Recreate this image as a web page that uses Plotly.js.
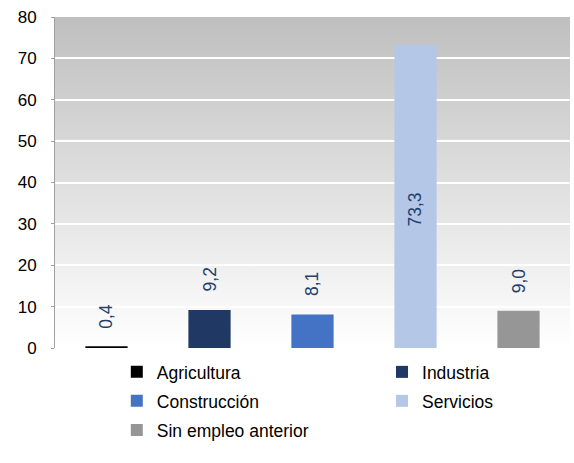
<!DOCTYPE html>
<html><head><meta charset="utf-8">
<script src="https://cdn.plot.ly/plotly-3.0.1.min.js"></script>
<style>html,body{margin:0;padding:0;background:#fff}#chart{width:574px;height:463px}</style>
</head><body><div id="chart"></div>
<script>
const categories = ["Agricultura", "Industria", "Construcción", "Servicios", "Sin empleo anterior"];
const values = [0.4, 9.2, 8.1, 73.3, 9.0];
const colors = ["#000000", "#1F3864", "#4472C4", "#B4C7E7", "#969696"];
const yTicks = [0, 10, 20, 30, 40, 50, 60, 70, 80];

const fmt = v => v.toFixed(1).replace('.', ',');
const legendNames = ['legend', 'legend2', 'legend3', 'legend4', 'legend5'];
const FONT = 'Arial, "Liberation Sans", sans-serif';

const traces = categories.map((c, i) => ({
  type: 'bar', x: [c], y: [values[i]], name: c,
  marker: {color: colors[i]}, width: 0.41,
  legend: legendNames[i], hoverinfo: 'skip'
}));

const annotations = categories.map((c, i) => {
  const big = values[i] > 50;
  return {
    x: c, y: big ? values[i] * 0.455 : values[i], xref: 'x', yref: 'y',
    text: fmt(values[i]), showarrow: false, textangle: -90,
    yanchor: 'middle', yshift: big ? 0 : 30,
    font: {family: FONT, size: 17.5, color: '#243F6E'}
  };
});

const grad = 'data:image/svg+xml;charset=utf-8,' + encodeURIComponent(
  '<svg xmlns="http://www.w3.org/2000/svg" width="10" height="100" preserveAspectRatio="none">' +
  '<defs><linearGradient id="g" x1="0" y1="0" x2="0" y2="1">' +
  '<stop offset="0" stop-color="#BFBFBF"/><stop offset="1" stop-color="#FFFFFF"/>' +
  '</linearGradient></defs><rect width="10" height="100" fill="url(#g)"/></svg>');

const legendPos = [[0.120, -0.0725], [0.635, -0.0725], [0.120, -0.160], [0.635, -0.160], [0.120, -0.248]];
const legendFont = {family: FONT, size: 17.5, color: '#000'};

const layout = {
  width: 574, height: 463,
  margin: {l: 55, r: 4, t: 17, b: 115},
  paper_bgcolor: '#fff', plot_bgcolor: 'rgba(0,0,0,0)',
  barmode: 'overlay',
  showlegend: true,
  font: {family: FONT, size: 16, color: '#000'},
  xaxis: {type: 'category', categoryarray: categories, showticklabels: false,
          showgrid: false, zeroline: false, showline: false, ticks: ''},
  yaxis: {range: [0, 80], tickvals: yTicks, showgrid: true, gridcolor: '#FFFFFF', gridwidth: 2,
          zeroline: false, showline: true, linecolor: '#A0A0A0', linewidth: 1,
          ticks: 'outside', ticklen: 3, tickcolor: '#A0A0A0', ticklabelstandoff: 11,
          tickfont: {family: FONT, size: 17, color: '#000'}},
  images: [{source: grad, xref: 'paper', yref: 'paper', x: 0, y: 1, sizex: 1, sizey: 1,
            xanchor: 'left', yanchor: 'top', sizing: 'stretch', layer: 'below'}],
  annotations: annotations
};
legendNames.forEach((ln, i) => {
  layout[ln] = {x: legendPos[i][0], y: legendPos[i][1], xanchor: 'left', yanchor: 'middle',
                orientation: 'h', font: legendFont, bgcolor: 'rgba(0,0,0,0)'};
});

Plotly.newPlot('chart', traces, layout, {displayModeBar: false, staticPlot: true});
</script></body></html>
